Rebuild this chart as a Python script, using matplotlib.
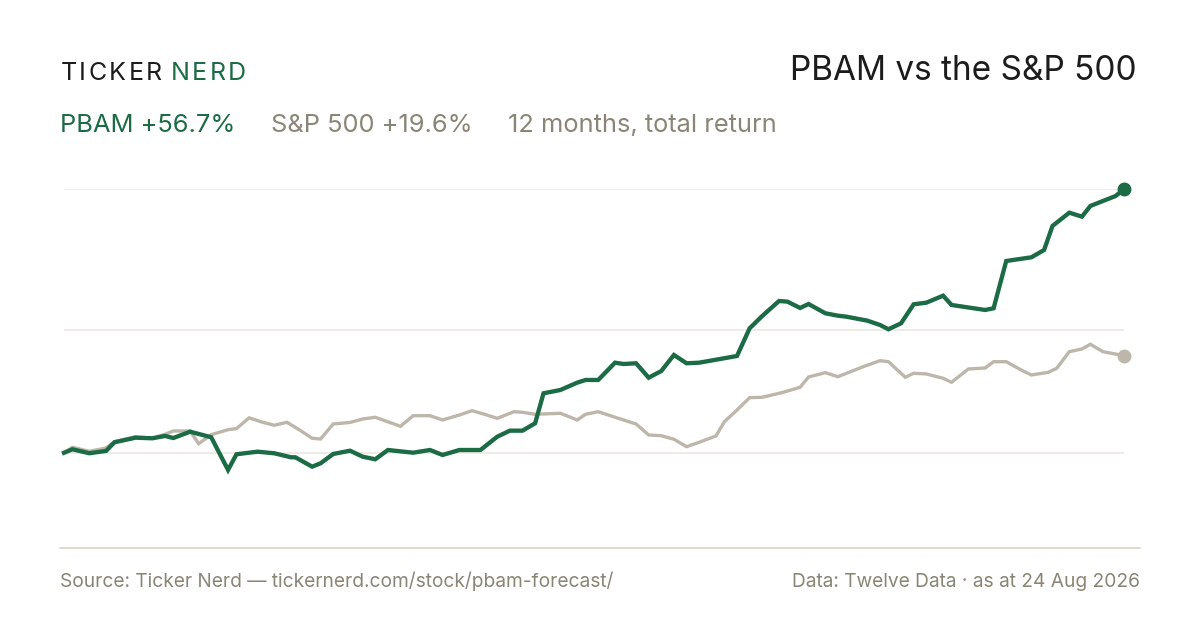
import matplotlib
matplotlib.use("Agg")
import matplotlib.pyplot as plt
from matplotlib.lines import Line2D

plt.rcParams['font.family'] = ['Inter', 'DejaVu Sans']

# trading-day index (0..252) and total return in %
pbam_days = [0, 2, 6, 10, 12, 17, 21, 24, 26, 30, 35, 39, 41, 46, 50, 54, 55, 59, 61, 64,
             68, 71, 74, 77, 83, 87, 90, 94, 99, 103, 106, 109, 112, 114, 118, 122, 124, 127,
             131, 133, 136, 139, 142, 145, 148, 151, 156, 160, 163, 166, 170, 172, 175, 177,
             181, 184, 186, 191, 194, 196, 199, 202, 205, 209, 211, 219, 221, 224, 230, 233,
             235, 239, 242, 244, 250, 252]
pbam_ret = [0.0, 0.75, -0.1, 0.4, 2.26, 3.25, 3.12, 3.62, 3.18, 4.54, 3.34, -3.7, -0.32, 0.24,
            -0.11, -0.97, -0.97, -2.99, -2.26, -0.26, 0.45, -0.84, -1.4, 0.6, 0.02, 0.6, -0.47,
            0.6, 0.6, 3.46, 4.76, 4.76, 6.35, 12.8, 13.51, 15.09, 15.67, 15.67, 19.39, 19.11,
            19.26, 16.16, 17.6, 21.05, 19.26, 19.39, 20.19, 20.83, 26.79, 29.44, 32.67, 32.52,
            31.16, 32.02, 30.02, 29.5, 29.29, 28.43, 27.5, 26.58, 27.87, 31.96, 32.3, 33.81,
            31.81, 30.73, 31.1, 41.27, 42.07, 43.64, 48.81, 51.67, 50.81, 53.11, 55.26, 56.7]

spx_days = [0, 2, 6, 10, 12, 17, 21, 24, 26, 30, 32, 35, 39, 41, 44, 47, 50, 53, 56, 59, 61,
            64, 68, 71, 74, 80, 83, 87, 90, 94, 97, 100, 103, 107, 109, 112, 118, 122, 124,
            127, 133, 136, 139, 142, 145, 148, 151, 155, 157, 160, 163, 166, 171, 175, 177,
            181, 184, 190, 194, 196, 200, 202, 205, 209, 211, 215, 219, 221, 224, 228, 230,
            234, 236, 239, 242, 244, 247, 252]
spx_ret = [0.0, 1.18, 0.32, 1.03, 2.39, 3.46, 3.12, 3.98, 4.69, 4.69, 1.96, 3.9, 4.97, 5.19,
           7.53, 6.63, 5.92, 6.56, 4.91, 3.12, 2.97, 6.2, 6.52, 7.27, 7.64, 5.7, 7.98, 7.98,
           7.06, 8.13, 9.06, 8.28, 7.42, 8.84, 8.72, 8.28, 8.5, 7.06, 8.28, 8.84, 7.06, 6.2,
           3.83, 3.68, 2.91, 1.31, 2.26, 3.62, 6.69, 9.21, 11.86, 11.94, 13.02, 14.1, 16.31,
           17.24, 16.38, 18.53, 19.82, 19.6, 16.25, 17.11, 16.96, 16.03, 15.17, 18.03, 18.25,
           19.6, 19.6, 17.6, 16.74, 17.32, 18.18, 21.76, 22.34, 23.35, 21.76, 20.9]

grid_levels = [0, 26.5, 56.7]

ticker = "PBAM"
pbam_label = "PBAM +56.7%"
spx_label = "S&P 500 +19.6%"
period_label = "12 months, total return"

GREEN = "#1b6b45"
SAND = "#bdb6aa"
MUTED = "#8a8576"
INK = "#1c1c1c"

W, H = 1200, 630
fig = plt.figure(figsize=(W / 100, H / 100), dpi=100)
fig.patch.set_facecolor("white")

# plot area in pixels: x 64..1124, y 548 (bottom) .. 189 (top)
ax = fig.add_axes([64 / W, (H - 548) / H, 1060 / W, (548 - 189.3) / H])
ax.set_xlim(0, 252)
ax.set_ylim(-20.49, 56.7)
ax.axis("off")

for lvl in grid_levels:
    ax.axhline(lvl, color="#ebe8e1", lw=1.2, zorder=1)

ax.plot(spx_days, spx_ret, color=SAND, lw=2.4, solid_joinstyle="miter", zorder=2, clip_on=False)
ax.plot(pbam_days, pbam_ret, color=GREEN, lw=3.1, solid_joinstyle="miter", zorder=3, clip_on=False)
ax.plot(spx_days[-1], spx_ret[-1], "o", color=SAND, ms=9, zorder=4, clip_on=False)
ax.plot(pbam_days[-1], pbam_ret[-1], "o", color=GREEN, ms=9, zorder=5, clip_on=False)

# bottom rule
fig.add_artist(Line2D([60 / W, 1140 / W], [(H - 548) / H] * 2, color="#ddd8cc", lw=1.3))

def fy(py):
    return 1 - py / H

renderer = fig.canvas.get_renderer()

def tracked(x, y, s, color, size, track):
    for ch in s:
        t = fig.text(x / W, fy(y), ch, color=color, fontsize=size, va="baseline", ha="left")
        x += t.get_window_extent(renderer).width + track
    return x

x = tracked(60.5, 79.5, "TICKER", INK, 18, 2.4)
tracked(x + 6, 79.5, "NERD", GREEN, 18, 2.4)

fig.text(1137 / W, fy(79.5), f"{ticker} vs the S&P 500", color=INK, fontsize=24,
         ha="right", va="baseline")

fig.text(60 / W, fy(132.5), pbam_label, color=GREEN, fontsize=18.3, va="baseline")
fig.text(271 / W, fy(132.5), spx_label, color=MUTED, fontsize=18.3, va="baseline")
fig.text(508 / W, fy(132.5), period_label, color=MUTED, fontsize=18.3, va="baseline")

fig.text(60 / W, fy(587), "Source: Ticker Nerd — tickernerd.com/stock/pbam-forecast/",
         color=MUTED, fontsize=13.8, va="baseline")
fig.text(1140 / W, fy(587), "Data: Twelve Data · as at 24 Aug 2026",
         color=MUTED, fontsize=13.8, va="baseline", ha="right")

fig.savefig("out.png", dpi=100, facecolor="white")
